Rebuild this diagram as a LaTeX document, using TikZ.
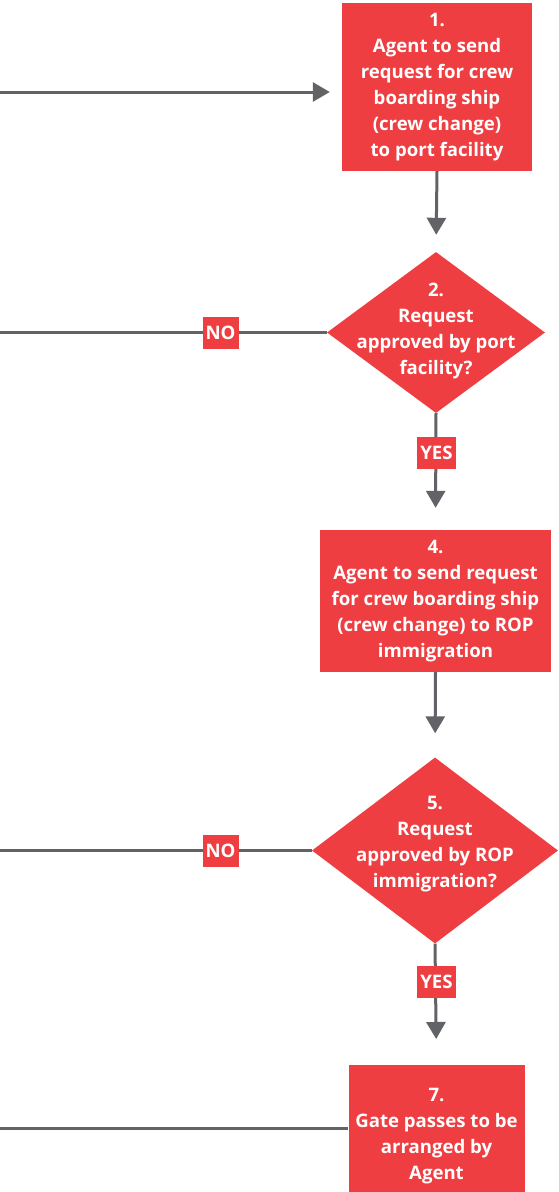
\documentclass[tikz,border=0pt]{standalone}
\usepackage{fontspec}
\setmainfont{Open Sans}
\usetikzlibrary{shapes.geometric,arrows.meta}
\definecolor{stepred}{HTML}{EF3E42}
\definecolor{linegray}{HTML}{626366}
\tikzset{
  stepbox/.style={rectangle, fill=stepred, inner sep=0pt},
  decision/.style={diamond, fill=stepred, inner sep=0pt},
  steptext/.style={text=white, align=center, inner sep=0pt,
    font=\fontsize{18.6}{26}\selectfont\bfseries},
  answer/.style={fill=stepred, text=white, inner sep=0pt,
    minimum width=36pt, minimum height=32pt,
    font=\fontsize{18.6}{20}\selectfont\bfseries},
  flow/.style={draw=linegray, line width=3pt},
  flowarrow/.style={flow, -{Triangle[width=19pt,length=17pt]}, color=linegray},
}
\begin{document}
\begin{tikzpicture}[x=1pt,y=-1pt]
\useasboundingbox (0,0) rectangle (558,1192);
\clip (0,0) rectangle (558,1192);

% step 1
\node[stepbox, minimum width=190pt, minimum height=168pt] (b1) at (437,87) {};
\node[steptext] (t1) at (437,87) {1.\\Agent to send\\request for crew\\boarding ship\\(crew change)\\to port facility};

% decision 2
\node[decision, minimum width=218pt, minimum height=161pt] (d2) at (436,332.5) {};
\node[steptext] (t2) at (436,331) {2.\\Request\\approved by port\\facility?};

% step 4
\node[stepbox, minimum width=231pt, minimum height=142pt] (b4) at (435.5,601) {};
\node[steptext] (t4) at (435.5,601) {4.\\Agent to send request\\for crew boarding ship\\(crew change) to ROP\\immigration};

% decision 5
\node[decision, minimum width=246pt, minimum height=186pt] (d5) at (435,850.5) {};
\node[steptext] (t5) at (435,844) {5.\\Request\\approved by ROP\\immigration?};

% step 7
\node[stepbox, minimum width=176pt, minimum height=150pt, anchor=north] (b7) at (436.5,1065) {};
\node[steptext] (t7) at (436.5,1136.5) {7.\\Gate passes to be\\arranged by\\Agent};

% loose ends running off to the left
\coordinate (in1) at (0,92);
\coordinate (leftedge) at (0,0);
\coordinate (in7) at (0,1128);

% connectors
\draw[flowarrow, shorten >=12pt] (in1) -- (b1.west |- in1);
\draw[flowarrow, shorten >=17pt] (b1.south) -- (d2.north);
\draw[flowarrow, shorten >=22pt] (d2.south) -- (b4.north);
\draw[flowarrow, shorten >=24pt] (b4.south) -- (d5.north);
\draw[flowarrow, shorten >=26pt] (d5.south) -- (b7.north);
\draw[flow] (d2.west) -- (d2.west -| leftedge);
\draw[flow] (d5.west) -- (d5.west -| leftedge);
\draw[flow] (in7) -- (b7.west |- in7);

% answer labels
\node[answer] (no2) at (220.5,332.5) {NO};
\node[answer, minimum width=39pt] (yes2) at (436.5,452.5) {YES};
\node[answer] (no5) at (220.5,850.5) {NO};
\node[answer, minimum width=39pt] (yes5) at (436.5,982) {YES};
\end{tikzpicture}
\end{document}
